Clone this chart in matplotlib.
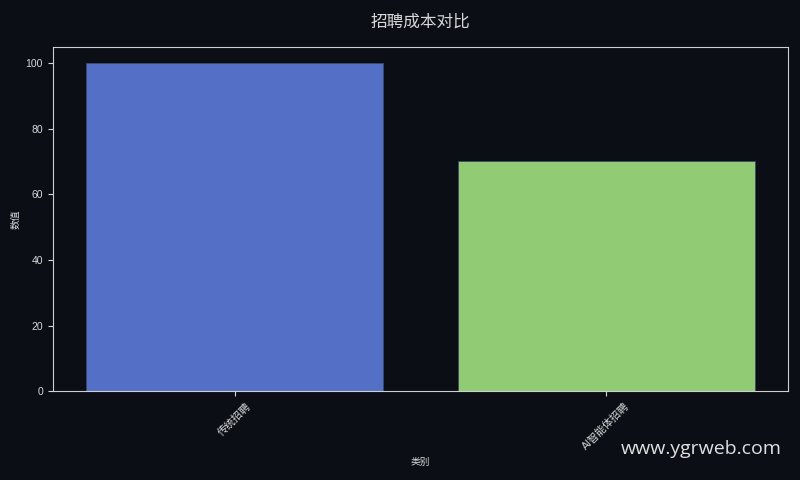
import matplotlib.pyplot as plt

plt.rcParams['font.family'] = ['Liberation Sans', 'Noto Sans CJK SC', 'DejaVu Sans']

categories = ['传统招聘', 'AI智能体招聘']
values = [100, 70]
colors = ['#5470c6', '#91cc75']

bg = '#0c0e15'
fg = '#d8d8d8'

fig, ax = plt.subplots(figsize=(8, 4.8), dpi=100)
fig.patch.set_facecolor(bg)
ax.set_facecolor(bg)

ax.bar(categories, values, color=colors, edgecolor='#3a4a6a', linewidth=0.6)

ax.set_title('招聘成本对比', color=fg, fontsize=12, pad=14,
             family=['Noto Sans CJK SC', 'DejaVu Sans'])
ax.set_xlabel('类别', color=fg, fontsize=7)
ax.set_ylabel('数值', color=fg, fontsize=7)
ax.tick_params(colors=fg, labelsize=7.5)
plt.setp(ax.get_xticklabels(), rotation=45)
for s in ax.spines.values():
    s.set_color('#cfcfcf')

fig.subplots_adjust(left=0.066, right=0.985, top=0.903, bottom=0.185)
fig.text(0.977, 0.065, 'www.ygrweb.com', color='#e0e0e0', fontsize=14,
         family='Open Sans', ha='right', va='center')

plt.savefig('out.png', facecolor=bg)
